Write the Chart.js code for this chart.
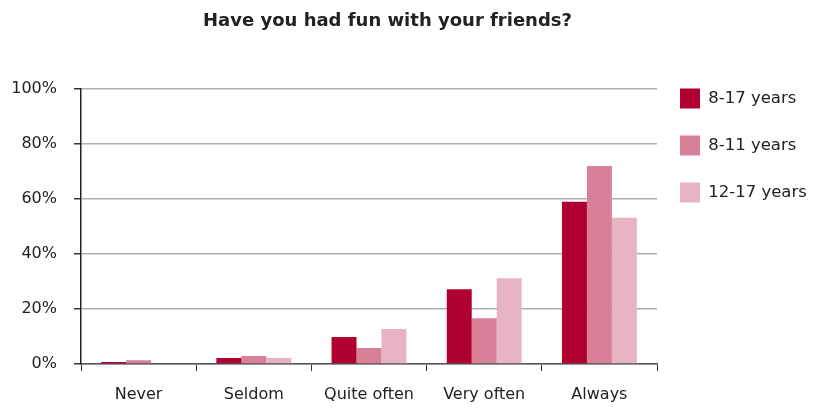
<!DOCTYPE html>
<html><head><meta charset="utf-8">
<script src="https://cdn.jsdelivr.net/npm/chart.js@4"></script>
<style>html,body{margin:0;padding:0;background:#fff}#wrap{width:813px;height:409px}</style>
</head><body><div id="wrap"><canvas id="c" width="813" height="409"></canvas></div>
<script>
const categories = ["Never", "Seldom", "Quite often", "Very often", "Always"];
const seriesNames = ["8-17 years", "8-11 years", "12-17 years"];
const values_8_17 = [0.7, 2.2, 9.8, 27.1, 58.9];
const values_8_11 = [1.4, 2.9, 5.8, 16.6, 71.9];
const values_12_17 = [0, 2.2, 12.7, 31.1, 53.1];
const colors = ["#b00032", "#d88098", "#e8b3c3"];
const yTicks = [0, 20, 40, 60, 80, 100];

const FONT = "'DejaVu Sans', sans-serif";

// layout tweaks: legend box width and offsets for legend/title placement
const tweak = {
  id: 'tweak',
  afterInit(chart) {
    const lg = chart.legend;
    const fit = lg.fit;
    lg.fit = function () { fit.call(this); this.width = 156; };
    const ld = lg.draw;
    lg.draw = function () { const c = this.ctx; c.save(); c.translate(-4, -27); ld.apply(this, arguments); c.restore(); };
    const tt = chart.titleBlock;
    if (tt) {
      const td = tt.draw;
      tt.draw = function () { const c = this.ctx; c.save(); c.translate(-23, 2); td.apply(this, arguments); c.restore(); };
    }
  }
};

new Chart(document.getElementById('c'), {
  type: 'bar',
  data: {
    labels: categories,
    datasets: [values_8_17, values_8_11, values_12_17].map((v, i) => ({
      label: seriesNames[i], data: v, backgroundColor: colors[i],
      categoryPercentage: 0.65, barPercentage: 1.0, borderWidth: 0
    }))
  },
  plugins: [tweak],
  options: {
    responsive: false, animation: false, devicePixelRatio: 1,
    layout: { padding: { left: 8, right: 0, top: 0, bottom: 0 } },
    plugins: {
      title: { display: true, text: "Have you had fun with your friends?", color: '#222',
        font: { family: FONT, size: 18, weight: 'bold' }, padding: { top: 9, bottom: 58 } },
      legend: { position: 'right', align: 'start', fullSize: false,
        labels: { boxWidth: 20, boxHeight: 20, padding: 27, color: '#222',
          font: { family: FONT, size: 16.5 } } },
      tooltip: { enabled: false }
    },
    scales: {
      x: {
        afterFit: (s) => { s.height = 45; },
        grid: { display: true, drawOnChartArea: false, offset: true, tickLength: 7, color: '#333' },
        border: { color: '#555', width: 1.5 },
        ticks: { color: '#222', font: { family: FONT, size: 16 }, padding: 14 }
      },
      y: {
        min: 0, max: 100,
        afterBuildTicks: (s) => { s.ticks = yTicks.map(v => ({ value: v })); },
        afterFit: (s) => { s.width = 73; },
        grid: { color: '#b0b0b0', lineWidth: 1.5, tickLength: 7, tickColor: '#333' },
        border: { color: '#222', width: 1.5 },
        ticks: { color: '#222', font: { family: FONT, size: 16 }, padding: 17, callback: v => v + '%' }
      }
    }
  }
});
</script></body></html>
